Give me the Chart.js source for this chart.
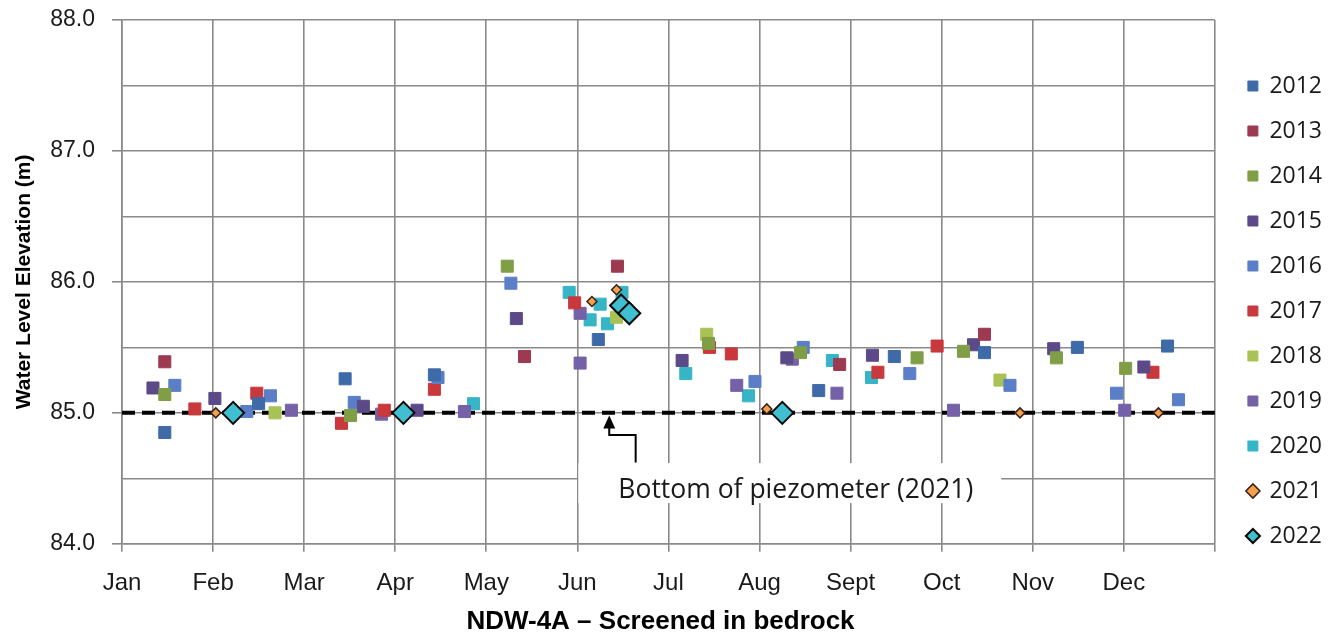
<!DOCTYPE html>
<html>
<head>
<meta charset="utf-8">
<script src="https://cdn.jsdelivr.net/npm/chart.js@4.4.1/dist/chart.umd.min.js"></script>
<style>
  html, body { margin: 0; padding: 0; background: #fff; }
  #wrap { width: 1332px; height: 639px; }
</style>
</head>
<body>
<div id="wrap"><canvas id="chart"></canvas></div>
<script>
// Month ticks on a linear axis: 0 = 1 Jan, 12 = end of Dec
const MONTHS = ["Jan", "Feb", "Mar", "Apr", "May", "Jun", "Jul", "Aug", "Sept", "Oct", "Nov", "Dec"]
const Y_MIN = 84.0
const Y_MAX = 88.0
const BOTTOM_OF_PIEZOMETER = 85.0

// [month position, water level (m)]
const y2012 = [[0.47, 84.85], [1.50, 85.07], [2.45, 85.26], [3.43, 85.29], [5.23, 85.56], [7.65, 85.17], [8.48, 85.43], [9.47, 85.46], [10.49, 85.50], [11.48, 85.51]]
const y2013 = [[0.47, 85.39], [4.42, 85.43], [5.44, 86.12], [7.88, 85.37], [9.47, 85.60]]
const y2014 = [[0.47, 85.14], [2.51, 84.98], [4.23, 86.12], [6.44, 85.53], [7.45, 85.46], [8.73, 85.42], [9.24, 85.47], [10.26, 85.42], [11.02, 85.34]]
const y2015 = [[0.34, 85.19], [1.02, 85.11], [2.65, 85.05], [3.24, 85.02], [4.33, 85.72], [6.15, 85.40], [7.30, 85.42], [8.24, 85.44], [9.35, 85.52], [10.23, 85.49], [11.22, 85.35]]
const y2016 = [[0.58, 85.21], [1.37, 85.01], [1.63, 85.13], [2.55, 85.08], [3.47, 85.27], [4.27, 85.99], [6.95, 85.24], [7.48, 85.50], [8.65, 85.30], [9.75, 85.21], [10.92, 85.15], [11.60, 85.10]]
const y2017 = [[0.80, 85.03], [1.48, 85.15], [2.41, 84.92], [2.88, 85.02], [3.43, 85.18], [4.97, 85.84], [6.45, 85.50], [6.69, 85.45], [8.30, 85.31], [8.95, 85.51], [11.32, 85.31]]
const y2018 = [[1.68, 85.00], [5.43, 85.73], [6.42, 85.60], [9.64, 85.25]]
const y2019 = [[1.86, 85.02], [2.85, 84.99], [3.76, 85.01], [5.03, 85.76], [5.03, 85.38], [6.75, 85.21], [7.36, 85.41], [7.85, 85.15], [9.13, 85.02], [11.01, 85.02]]
const y2020 = [[3.86, 85.07], [4.91, 85.92], [5.14, 85.71], [5.25, 85.83], [5.33, 85.68], [5.49, 85.92], [6.19, 85.30], [6.88, 85.13], [7.80, 85.40], [8.23, 85.27]]
const y2021 = [[1.03, 85.00], [5.16, 85.85], [5.43, 85.94], [7.08, 85.03], [9.86, 85.00], [11.38, 85.00]]
const y2022 = [[1.22, 85.00], [3.09, 85.00], [5.48, 85.82], [5.57, 85.76], [7.25, 85.00]]

const SERIES = [
  { label: "2012", data: y2012, color: "#3f6aa8" },
  { label: "2013", data: y2013, color: "#9c3a52" },
  { label: "2014", data: y2014, color: "#7f9e45" },
  { label: "2015", data: y2015, color: "#5c4a88" },
  { label: "2016", data: y2016, color: "#5a7fc8" },
  { label: "2017", data: y2017, color: "#c8383c" },
  { label: "2018", data: y2018, color: "#a8c255" },
  { label: "2019", data: y2019, color: "#7561a8" },
  { label: "2020", data: y2020, color: "#35b5c5" }
]

const GRID = "#8a8a8a"
const TEXT = "#1a1a1a"
const AXIS_FONT = "Liberation Sans"

const toPoints = rows => rows.map(([x, y]) => ({ x, y }))

const datasets = SERIES.map(s => ({
  label: s.label,
  data: toPoints(s.data),
  pointStyle: "rect",
  pointRadius: 8.5,
  pointHoverRadius: 8.5,
  backgroundColor: s.color,
  borderColor: s.color,
  borderWidth: 1,
  order: 5
}))

datasets.push({
  label: "2021",
  data: toPoints(y2021),
  pointStyle: "rectRot",
  pointRadius: 5,
  pointHoverRadius: 5,
  backgroundColor: "#f2a24a",
  borderColor: "#3a1f1f",
  borderWidth: 1.5,
  order: 2
})

datasets.push({
  label: "2022",
  data: toPoints(y2022),
  pointStyle: "rectRot",
  pointRadius: 11,
  pointHoverRadius: 11,
  backgroundColor: "#3fbfcf",
  borderColor: "#0a0a0a",
  borderWidth: 2,
  order: 1
})

// dashed reference line for the bottom of the piezometer
datasets.push({
  type: "line",
  label: "bottom",
  data: [{ x: 0, y: BOTTOM_OF_PIEZOMETER }, { x: 12, y: BOTTOM_OF_PIEZOMETER }],
  borderColor: "#000",
  borderWidth: 4,
  borderDash: [13, 7],
  pointRadius: 0,
  fill: false,
  order: 100
})

// arrow + caption pointing at the dashed line, positioned in data units
const NOTE = {
  text: "Bottom of piezometer (2021)",
  tip: [5.35, 84.98],
  elbow: 84.83,
  foot: [5.64, 84.62],
  label: [5.45, 84.41]
}

const noteLabel = {
  id: "noteLabel",
  afterDatasetsDraw(chart) {
    const { ctx, scales: { x, y } } = chart
    const tipX = x.getPixelForValue(NOTE.tip[0])
    const tipY = y.getPixelForValue(NOTE.tip[1])
    const elbowY = y.getPixelForValue(NOTE.elbow)
    const footX = x.getPixelForValue(NOTE.foot[0])
    const footY = y.getPixelForValue(NOTE.foot[1])

    ctx.save()
    ctx.font = "26.5px 'Open Sans'"
    const w = ctx.measureText(NOTE.text).width
    const lx = x.getPixelForValue(NOTE.label[0])
    const ly = y.getPixelForValue(NOTE.label[1])
    // the caption sits on a white box that cuts through the grid
    ctx.fillStyle = "#fff"
    ctx.fillRect(lx - 40, ly - 27, w + 68, 40)
    ctx.fillStyle = TEXT
    ctx.textBaseline = "middle"
    ctx.textAlign = "left"
    ctx.fillText(NOTE.text, lx, ly)

    ctx.strokeStyle = "#000"
    ctx.lineWidth = 2
    ctx.beginPath()
    ctx.moveTo(footX, footY)
    ctx.lineTo(footX, elbowY)
    ctx.lineTo(tipX, elbowY)
    ctx.lineTo(tipX, tipY + 10)
    ctx.stroke()

    ctx.fillStyle = "#000"
    ctx.beginPath()
    ctx.moveTo(tipX, tipY)
    ctx.lineTo(tipX - 6, tipY + 13)
    ctx.lineTo(tipX + 6, tipY + 13)
    ctx.closePath()
    ctx.fill()
    ctx.restore()
  }
}

// push the legend column a little right of the plot and up
const legendOffset = {
  id: "legendOffset",
  afterLayout(chart) {
    const lg = chart.legend
    lg.left += 11
    lg.right += 11
    lg.top -= 10
    lg.bottom -= 10
  }
}

new Chart(document.getElementById("chart"), {
  type: "scatter",
  data: { datasets },
  options: {
    responsive: true,
    maintainAspectRatio: false,
    animation: false,
    layout: { autoPadding: false, padding: { left: 0, right: 11, top: 3, bottom: 0 } },
    scales: {
      x: {
        type: "linear",
        min: 0,
        max: 12,
        afterFit: scale => { scale.height = 62 },
        ticks: {
          stepSize: 1,
          autoSkip: false,
          maxRotation: 0,
          padding: 17,
          color: TEXT,
          font: { family: AXIS_FONT, size: 24 },
          callback: v => MONTHS[v] ?? ""
        },
        grid: { color: GRID, lineWidth: 1.6, tickLength: 8, tickColor: GRID },
        border: { color: GRID, width: 1.6 }
      },
      y: {
        min: Y_MIN,
        max: Y_MAX,
        afterFit: scale => {
          scale.width = 122
          scale.paddingTop = 20
        },
        ticks: {
          stepSize: 0.5,
          padding: 17,
          color: TEXT,
          font: { family: AXIS_FONT, size: 23 },
          callback: v => Number.isInteger(v) ? v.toFixed(1) : ""
        },
        grid: {
          color: GRID,
          lineWidth: 1.6,
          tickLength: 10,
          tickColor: ctx => Number.isInteger(ctx.tick.value) ? GRID : "transparent"
        },
        border: { color: GRID, width: 1.6 },
        title: {
          display: true,
          text: "Water Level Elevation (m)",
          color: "#000",
          font: { family: AXIS_FONT, size: 21, weight: "bold" },
          padding: { top: 12, bottom: 0 }
        }
      }
    },
    plugins: {
      legend: {
        position: "right",
        labels: {
          usePointStyle: true,
          boxWidth: 10,
          boxHeight: 10,
          padding: 22,
          color: TEXT,
          font: { family: "Open Sans", size: 23 },
          filter: item => item.text !== "bottom",
          sort: (a, b) => a.text.localeCompare(b.text)
        }
      },
      title: {
        display: true,
        position: "bottom",
        text: "NDW-4A \u2013 Screened in bedrock",
        color: "#000",
        font: { family: AXIS_FONT, size: 26, weight: "bold" },
        padding: { top: 0, bottom: 2 }
      },
      tooltip: { enabled: false }
    }
  },
  plugins: [noteLabel, legendOffset]
})
</script>
</body>
</html>
